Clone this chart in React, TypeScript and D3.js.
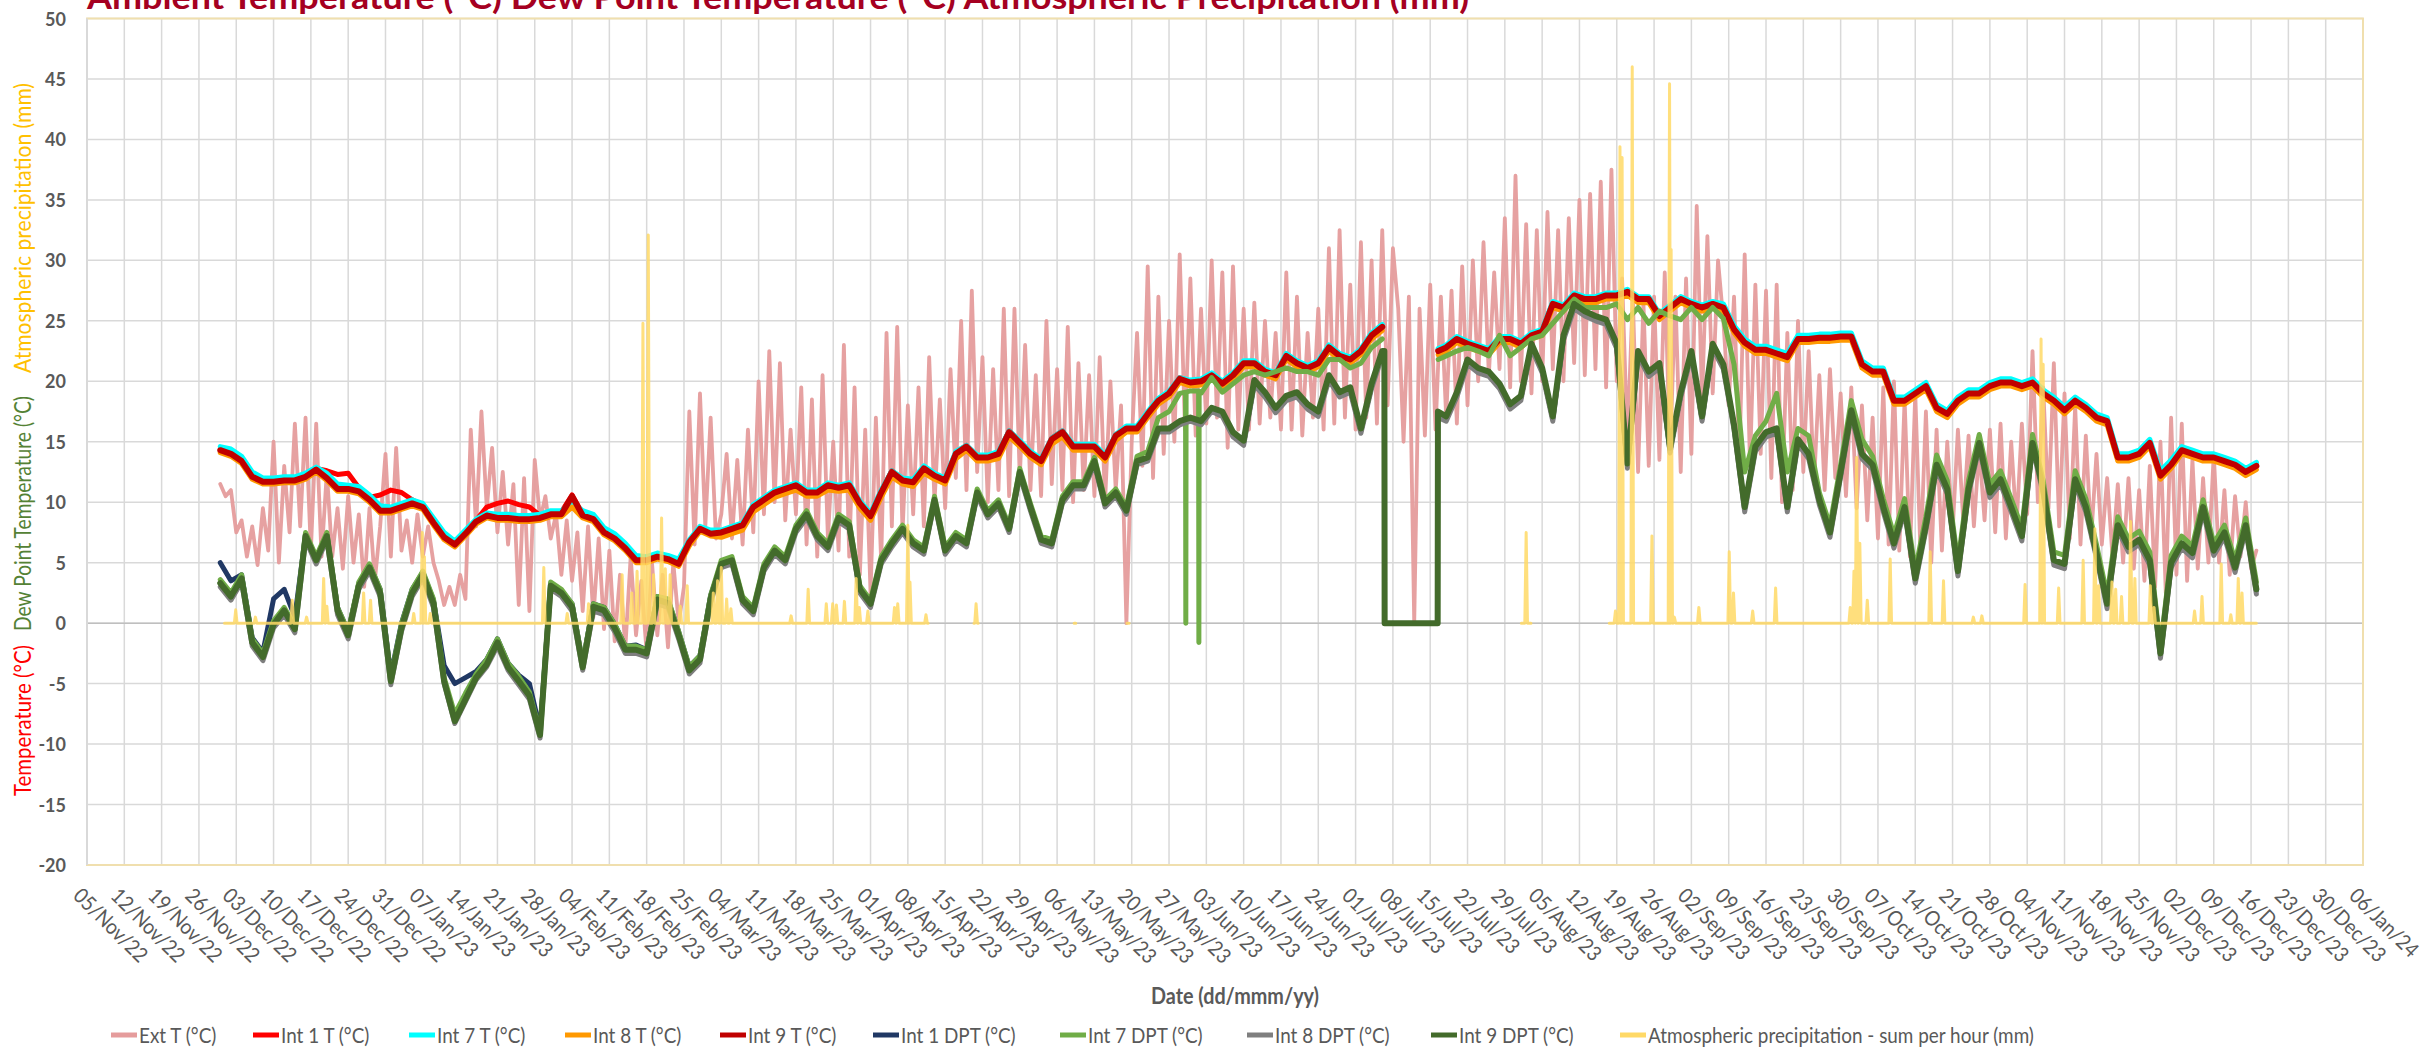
import React from 'react';
import * as d3 from 'd3';

// day 0 of every series
const START = new Date(2022, 10, 30);
const AXIS_START = new Date(2022, 10, 5);
const AXIS_END = new Date(2024, 0, 6);

const seriesNames = ['Ext T (°C)', 'Int 1 T (°C)', 'Int 7 T (°C)', 'Int 8 T (°C)', 'Int 9 T (°C)',
    'Int 1 DPT (°C)', 'Int 7 DPT (°C)', 'Int 8 DPT (°C)', 'Int 9 DPT (°C)',
    'Atmospheric precipitation - sum per hour (mm)'];
const seriesColors = ['#E59C9C', '#FF0000', '#00FFFF', '#FF9900', '#C00000',
    '#203864', '#70AD47', '#7F7F7F', '#436B2B', '#FFD966'];

const yTicks = [-20, -15, -10, -5, 0, 5, 10, 15, 20, 25, 30, 35, 40, 45, 50];

// outdoor temperature, one reading per day (alternating day / night)
const extT = [
    11.5, 10.5, 11.0, 7.5, 8.5, 5.5, 8.0, 4.8, 9.5, 6.0,
    15.0, 5.0, 13.0, 7.5, 16.5, 8.0, 17.0, 6.0, 16.5, 5.5,
    12.5, 5.5, 9.5, 4.5, 10.5, 5.0, 9.0, 3.0, 9.5, 3.5,
    8.0, 14.0, 5.5, 14.5, 6.0, 8.5, 5.0, 9.0, 5.5, 8.0,
    5.0, 3.5, 1.5, 3.0, 1.5, 4.0, 2.0, 16.0, 8.0, 17.5,
    9.5, 14.5, 7.5, 12.5, 6.5, 11.5, 1.5, 12.0, 1.0, 13.5,
    8.5, 10.5, 7.0, 9.0, 4.0, 8.5, 3.5, 7.5, 1.0, 8.0,
    0.5, 7.0, -0.5, 6.0, -1.5, 4.0, -2.0, 5.5, -1.0, 3.5,
    -2.5, 5.0, -1.0, 4.0, -2.0, 5.0, 0.0, 3.0, 17.5, 6.5,
    19.0, 8.0, 17.0, 7.0,
    9, 14, 7, 13.5, 6.5, 16, 7.5, 20,
    9, 22.5, 10, 21.5, 8.5, 16, 9,
    19.5, 6.5, 18.5, 5.5, 20.5, 7, 15,
    6, 23, 5.5, 19.5, 4, 16, 2.5,
    17, 5, 24, 8, 24.5, 7.5, 18,
    9, 19.5, 8, 22, 10, 18.5, 9.5,
    21, 12, 25, 11, 27.5, 12.5, 22,
    10, 21, 11, 26, 10.5, 26, 12,
    23, 11, 20.5, 10.5, 25, 11.5, 21,
    11, 24.5, 10, 21.5, 11, 20.5, 10.5,
    22, 10, 20, 11, 18, 0, 15,
    24, 13, 29.5, 12, 27, 14, 25,
    15, 30.5, 16, 28.5, 15.5, 26, 16.5, 30, 17,
    29, 14.5, 29.5, 16, 26,
    16, 26.5, 16.5, 25, 17, 24, 16,
    29, 16, 27, 15.5, 24, 17, 26,
    16, 31, 16.5, 32.5, 17, 28, 16,
    31.5, 17, 30, 16.5, 32.5, 18, 31,
    26, 15, 27, 0, 26, 15.5, 28,
    16, 27, 17, 27.5, 16.5, 29.5, 18,
    30, 20, 31.5, 20.5, 29, 21, 33.5,
    19.5, 37, 20, 33, 19, 32.5, 20,
    34, 21, 32.5, 20, 33.5, 21.5, 35,
    20.5, 35.5, 21, 36.5, 19.5, 37.5, 20,
    28.5, 15, 27, 12.5, 26.5, 13, 27,
    13.5, 29, 14, 27, 12.5, 28.5, 14,
    34.5, 18.5, 32, 19, 30,
    25, 18,
    27, 13.5, 30.5, 13, 28, 14, 27.5,
    12, 28, 10, 24, 11, 25, 12.5,
    22.5, 11.5, 20.5, 11, 21, 12, 19,
    10.5, 19.5, 9.5, 18, 8.5, 17, 7,
    19.5, 6.5, 20, 6, 18.5, 5.5, 19,
    5.5, 17.5, 5, 16, 6, 15, 7.5,
    16, 8.5, 15.5, 8, 14.5, 8.5, 16,
    7.5, 16.5, 7, 15, 8, 16.5, 9,
    22.5, 10, 19.5, 9.5, 21.5, 8, 19,
    7, 18, 6.5, 15.5, 7, 14, 6.5,
    12, 5.5, 11.5, 5, 12, 4.5, 11,
    3.5, 13, 3, 15, 2.5, 17, 4,
    16.5, 3.5, 13.5, 4.5, 12, 5, 14,
    5, 11, 4, 10.5, 5.5, 10, 4.5,
    6
];

// indoor sensors, one reading every 2 days
const int1T = [
    14.4, 14.1, 13.5, 12.2, 11.8, 11.9, 12.0, 12.0, 12.3, 12.8, 12.6, 12.3, 12.4, 11.2, 10.4, 10.6,
    11.0, 10.8, 10.2, 9.7, 8.4, 7.2, 6.6, 7.5, 8.5, 9.6, 9.9, 10.1, 9.8, 9.6, 8.9, 9.2,
    9.2, 10.6, 9.0, 8.7, 7.6, 7.1, 6.3, 5.3, 5.3, 5.6, 5.4, 5.0, 6.8, 7.9, 7.5,
    7.6, 7.9, 8.2, 9.7, 10.3, 10.9, 11.2, 11.5, 10.9, 10.9, 11.5, 11.3, 11.5, 10.0, 9.0, 10.9,
    12.6, 11.9, 11.8, 12.9, 12.3, 11.9, 14.1, 14.7, 13.8, 13.8, 14.1, 15.9, 15.0, 14.1, 13.5, 15.3,
    15.9, 14.7, 14.7, 14.7, 13.8, 15.6, 16.2, 16.2, 17.4, 18.5, 19.1, 20.3, 20.0, 20.1, 20.6,
    19.9, 20.6, 21.6, 21.6, 20.9, 20.6, 22.2, 21.6, 21.2, 21.6, 22.9, 22.2, 21.9, 22.6, 23.9, 24.6,
    null, null, null, null, null, 22.9, 23.6, 23.2, 22.9, 22.6, 23.6, 23.6, 23.2, 23.9, 24.2, 26.5,
    26.2, 27.2, 26.9, 26.9, 27.2, 27.2, 27.5, 26.9, 26.9, 25.5, 26.2, 26.9, 26.5, 26.2, 26.5,
    26.0, 24.3, 23.3, 22.6, 22.7, 22.3, 22.1, 23.5, 23.6, 23.6, 23.7, 23.7, 23.8, 21.4, 20.9, 20.8,
    18.5, 18.4, 19.1, 19.6, 17.9, 17.3, 18.5, 19.0, 19.1, 19.6, 20.0, 19.9, 19.7, 19.9, 19.1, 18.4,
    17.7, 18.4, 17.9, 17.0, 16.8, 13.7, 13.8, 14.0, 15.0, 12.2, 13.2, 14.3, 14.1, 13.7, 13.8, 13.4,
    13.2, 12.5, 13.1
];

const int7T = [
    14.6, 14.4, 13.8, 12.5, 12.0, 12.0, 12.1, 12.1, 12.4, 12.9, 12.4, 11.5, 11.4, 11.3, 10.6, 9.7,
    9.6, 9.9, 10.2, 9.9, 8.7, 7.5, 6.8, 7.7, 8.6, 9.1, 9.0, 9.0, 8.9, 8.9, 9.0, 9.3,
    9.3, 10.0, 9.3, 9.0, 7.9, 7.4, 6.6, 5.6, 5.5, 5.8, 5.6, 5.3, 6.9, 8.0, 7.7,
    7.7, 8.0, 8.3, 9.8, 10.4, 11.0, 11.3, 11.6, 11.0, 11.0, 11.6, 11.4, 11.6, 10.1, 9.1, 11.0,
    12.6, 12.0, 11.9, 13.0, 12.4, 12.0, 14.2, 14.7, 13.9, 13.9, 14.2, 15.9, 15.1, 14.2, 13.6, 15.3,
    15.9, 14.8, 14.8, 14.8, 13.9, 15.6, 16.3, 16.3, 17.5, 18.6, 19.2, 20.3, 20.1, 20.2, 20.7,
    20.0, 20.7, 21.7, 21.7, 21.0, 20.7, 22.3, 21.7, 21.3, 21.7, 23.0, 22.3, 22.0, 22.7, 24.0, 24.7,
    null, null, null, null, null, 23.0, 23.7, 23.3, 23.0, 22.7, 23.7, 23.7, 23.3, 24.0, 24.3, 26.6,
    26.3, 27.3, 27.0, 27.0, 27.3, 27.3, 27.6, 27.0, 27.0, 25.6, 26.3, 27.0, 26.6, 26.3, 26.6,
    26.4, 24.6, 23.5, 22.9, 22.9, 22.6, 22.3, 23.8, 23.8, 23.9, 23.9, 24.0, 24.0, 21.7, 21.1, 21.1,
    18.7, 18.7, 19.3, 19.9, 18.1, 17.6, 18.7, 19.3, 19.3, 19.9, 20.2, 20.2, 19.9, 20.2, 19.3, 18.7,
    17.9, 18.7, 18.1, 17.3, 17.0, 14.0, 14.0, 14.3, 15.2, 12.6, 13.5, 14.6, 14.3, 14.0, 14.0, 13.7,
    13.4, 12.8, 13.3
];

const int8T = [
    14.1, 13.8, 13.2, 11.9, 11.5, 11.5, 11.6, 11.6, 11.9, 12.5, 11.8, 10.9, 10.9, 10.7, 10.0, 9.1,
    9.1, 9.4, 9.7, 9.4, 8.1, 6.9, 6.3, 7.2, 8.2, 8.7, 8.5, 8.5, 8.4, 8.4, 8.5, 8.8,
    8.8, 9.6, 8.7, 8.4, 7.3, 6.8, 6.0, 5.0, 5.0, 5.3, 5.1, 4.7, 6.4, 7.6, 7.2,
    7.1, 7.4, 7.7, 9.2, 9.8, 10.4, 10.7, 11.0, 10.5, 10.5, 11.0, 10.9, 11.0, 9.5, 8.5, 10.4,
    12.1, 11.5, 11.3, 12.4, 11.9, 11.5, 13.6, 14.3, 13.4, 13.4, 13.6, 15.4, 14.6, 13.7, 13.1, 14.8,
    15.4, 14.3, 14.3, 14.3, 13.4, 15.1, 15.8, 15.8, 17.0, 18.1, 18.7, 19.9, 19.6, 19.7, 20.2,
    19.5, 20.2, 21.2, 21.2, 20.5, 20.2, 21.8, 21.2, 20.8, 21.2, 22.5, 21.8, 21.5, 22.2, 23.5, 24.2,
    null, null, null, null, null, 22.5, 23.2, 22.8, 22.5, 22.2, 23.2, 23.2, 22.8, 23.5, 23.8, 26.1,
    25.8, 26.8, 26.5, 26.5, 26.8, 26.8, 27.1, 26.5, 26.5, 25.1, 25.8, 26.5, 26.1, 25.8, 26.1,
    25.8, 24.0, 22.9, 22.3, 22.3, 22.0, 21.7, 23.2, 23.2, 23.3, 23.3, 23.4, 23.4, 21.1, 20.5, 20.5,
    18.1, 18.1, 18.7, 19.3, 17.5, 17.0, 18.1, 18.7, 18.7, 19.3, 19.6, 19.6, 19.3, 19.6, 18.7, 18.1,
    17.3, 18.1, 17.5, 16.7, 16.4, 13.4, 13.4, 13.7, 14.6, 11.9, 12.8, 14.0, 13.7, 13.4, 13.4, 13.1,
    12.8, 12.2, 12.7
];

const int9T = [
    14.3, 14.0, 13.4, 12.1, 11.7, 11.7, 11.8, 11.8, 12.1, 12.7, 12.0, 11.1, 11.1, 10.9, 10.2, 9.3,
    9.3, 9.6, 9.9, 9.6, 8.3, 7.1, 6.5, 7.4, 8.4, 8.9, 8.7, 8.7, 8.6, 8.6, 8.7, 9.0,
    9.0, 10.5, 8.9, 8.6, 7.5, 7.0, 6.2, 5.2, 5.2, 5.5, 5.3, 4.9, 6.7, 7.8, 7.4,
    7.5, 7.8, 8.1, 9.6, 10.2, 10.8, 11.1, 11.4, 10.8, 10.8, 11.4, 11.2, 11.4, 9.9, 8.85, 10.8,
    12.5, 11.8, 11.65, 12.8, 12.2, 11.8, 14.0, 14.6, 13.7, 13.7, 14.0, 15.8, 14.9, 14.0, 13.4, 15.2,
    15.8, 14.6, 14.6, 14.6, 13.7, 15.5, 16.1, 16.1, 17.3, 18.4, 19.0, 20.2, 19.9, 20.0, 20.5,
    19.8, 20.5, 21.5, 21.5, 20.8, 20.5, 22.1, 21.5, 21.1, 21.5, 22.8, 22.1, 21.8, 22.5, 23.8, 24.5,
    null, null, null, null, null, 22.8, 23.5, 23.1, 22.8, 22.5, 23.5, 23.5, 23.1, 23.8, 24.1, 26.4,
    26.1, 27.1, 26.8, 26.8, 27.1, 27.1, 27.4, 26.8, 26.8, 25.4, 26.1, 26.8, 26.4, 26.1, 26.4,
    26.1, 24.3, 23.2, 22.6, 22.6, 22.3, 22.0, 23.5, 23.5, 23.6, 23.6, 23.7, 23.7, 21.4, 20.8, 20.8,
    18.4, 18.4, 19.0, 19.6, 17.8, 17.3, 18.4, 19.0, 19.0, 19.6, 19.9, 19.9, 19.6, 19.9, 19.0, 18.4,
    17.6, 18.4, 17.8, 17.0, 16.7, 13.7, 13.7, 14.0, 14.9, 12.2, 13.1, 14.3, 14.0, 13.7, 13.7, 13.4,
    13.1, 12.5, 13.0
];

const int1Dpt = [
    5.0, 3.5, 4.0, -1.2, -2.4, 2.0, 2.8, 0.5, 7.3, 5.4, 7.3, 1.3, -0.7, 3.3, 4.8, 2.8,
    -4.3, 0.0, 2.8, 4.2, 1.9, -3.5, -5.0, -4.5, -4.0, -3.0, -1.3, -3.3, -4.3, -5.0, -8.8, 3.3,
    2.7, 1.6, -3.3, 1.6, 1.3, -0.1, -1.9, -1.8, -2.2, 2.2, 1.9, -0.7, -3.6, -2.7, 2.3,
    4.8, 5.1, 1.8, 0.9, 4.5, 5.9, 5.1, 7.7, 8.9, 7.1, 6.2, 8.6, 8.0, 2.7, 1.5, 5.1,
    6.5, 7.7, 6.5, 5.9, 10.1, 5.9, 7.1, 6.5, 10.7, 8.9, 9.8, 7.7, 12.4, 9.5, 6.8, 6.5,
    10.1, 11.3, 11.3, 13.3, 9.8, 10.7, 9.2, 13.3, 13.6, 16.0, 16.0, 16.6, 16.9, 16.6, 17.7,
    17.3, 15.6, 14.9, 19.9, 18.9, 17.6, 18.6, 18.9, 17.9, 17.3, 20.3, 18.9, 19.3, 15.9, 19.6, 22.3,
    null, null, null, null, null, 16.9, 18.9, 21.6, 20.9, 20.6, 19.6, 17.9, 18.6, 22.9, 20.9, 16.9,
    23.6, 26.2, 25.6, 25.2, 24.9, 22.9, 13.0, 22.3, 20.6, 21.3, 14.3, 18.9, 22.3, 16.9, 22.9,
    21.3, 16.3, 9.5, 14.5, 15.7, 16.0, 9.5, 15.1, 13.9, 10.1, 7.4, 12.4, 17.5, 13.9, 13.0, 9.5,
    6.5, 9.5, 3.6, 8.0, 13.0, 11.0, 4.2, 11.0, 14.8, 10.7, 11.8, 9.5, 7.1, 14.8, 11.0, 5.1,
    4.8, 11.8, 9.5, 5.7, 1.5, 8.0, 6.2, 6.8, 5.1, -2.6, 4.9, 6.5, 5.7, 9.5, 5.9, 7.4,
    4.5, 8.0, 2.7
];

const int7Dpt = [
    3.6, 2.5, 4.0, -1.3, -2.5, 0.2, 1.3, -0.2, 7.5, 5.5, 7.5, 1.3, -0.7, 3.4, 4.9, 2.8,
    -4.5, -0.1, 2.8, 4.3, 2.0, -4.5, -7.5, -5.8, -4.2, -3.0, -1.3, -3.3, -4.4, -5.7, -9.0, 3.4,
    2.8, 1.6, -3.3, 1.6, 1.3, -0.1, -1.9, -1.9, -2.2, 2.2, 2.0, -0.7, -3.6, -2.7, 2.3,
    5.2, 5.5, 2.2, 1.3, 4.9, 6.3, 5.5, 8.1, 9.3, 7.5, 6.6, 9.0, 8.4, 3.1, 1.9, 5.5,
    6.9, 8.1, 6.9, 6.3, 10.5, 6.3, 7.5, 6.9, 11.1, 9.3, 10.2, 8.1, 12.8, 9.9, 7.2, 6.9,
    10.5, 11.7, 11.7, 13.7, 10.2, 11.1, 9.6, 13.8, 14.2, 17.0, 17.5, 19.0, 19.2, 19.0, 20.3,
    19.1, 19.8, 20.5, 20.8, 20.5, 20.8, 21.1, 20.8, 20.8, 20.5, 21.8, 21.8, 21.1, 21.5, 22.8, 23.5,
    null, null, null, null, null, 22.1, 22.5, 22.8, 22.5, 22.1, 23.8, 22.1, 22.8, 23.5, 23.8, 24.8,
    25.8, 26.8, 26.1, 26.1, 26.1, 26.4, 25.1, 26.1, 24.8, 25.8, 25.4, 25.1, 26.1, 25.1, 26.1,
    25.2, 21.4, 12.5, 15.5, 16.7, 19.0, 12.5, 16.1, 15.5, 10.8, 8.1, 13.1, 18.4, 15.2, 13.8, 10.3,
    7.3, 10.3, 4.4, 8.8, 13.9, 11.8, 5.0, 11.8, 15.6, 11.5, 12.6, 10.3, 7.9, 15.6, 11.8, 5.9,
    5.6, 12.6, 10.3, 6.5, 2.3, 8.8, 7.0, 7.6, 5.9, -2.0, 5.6, 7.2, 6.4, 10.2, 6.6, 8.1,
    5.2, 8.7, 3.4
];

const int8Dpt = [
    3.0, 1.9, 3.4, -1.9, -3.1, -0.4, 0.7, -0.8, 6.9, 4.9, 6.9, 0.7, -1.3, 2.8, 4.3, 2.2,
    -5.1, -0.7, 2.2, 3.7, 1.3, -5.0, -8.3, -6.5, -4.7, -3.6, -1.9, -3.9, -5.1, -6.3, -9.5, 2.8,
    2.2, 1.0, -3.9, 1.0, 0.7, -0.7, -2.5, -2.5, -2.8, 1.6, 1.3, -1.3, -4.2, -3.3, 1.7,
    4.6, 4.9, 1.6, 0.7, 4.3, 5.7, 4.9, 7.5, 8.7, 6.9, 6.0, 8.4, 7.8, 2.5, 1.3, 4.9,
    6.3, 7.5, 6.3, 5.7, 9.9, 5.7, 6.9, 6.3, 10.5, 8.7, 9.6, 7.5, 12.2, 9.3, 6.6, 6.3,
    9.9, 11.1, 11.1, 13.1, 9.6, 10.5, 9.0, 13.1, 13.4, 15.8, 15.8, 16.4, 16.7, 16.4, 17.5,
    17.1, 15.4, 14.7, 19.7, 18.7, 17.4, 18.4, 18.7, 17.7, 17.1, 20.1, 18.7, 19.1, 15.7, 19.4, 22.1,
    null, null, null, null, null, 16.7, 18.7, 21.4, 20.7, 20.4, 19.4, 17.7, 18.4, 22.7, 20.7, 16.7,
    23.4, 26.0, 25.4, 25.0, 24.7, 22.7, 12.8, 22.1, 20.4, 21.1, 14.1, 18.7, 22.1, 16.7, 22.7,
    21.0, 16.0, 9.2, 14.2, 15.4, 15.7, 9.2, 14.8, 13.6, 9.8, 7.1, 12.1, 17.2, 13.6, 12.7, 9.2,
    6.2, 9.2, 3.3, 7.7, 12.7, 10.7, 3.9, 10.7, 14.5, 10.4, 11.5, 9.2, 6.8, 14.5, 10.7, 4.8,
    4.5, 11.5, 9.2, 5.4, 1.2, 7.7, 5.9, 6.5, 4.8, -2.9, 4.6, 6.2, 5.4, 9.2, 5.6, 7.1,
    4.2, 7.7, 2.4
];

const int9Dpt = [
    3.3, 2.2, 3.7, -1.6, -2.8, -0.1, 1.05, -0.5, 7.2, 5.2, 7.2, 1.05, -1.0, 3.1, 4.6, 2.5,
    -4.8, -0.4, 2.5, 4.0, 1.65, -4.8, -8.1, -6.3, -4.5, -3.4, -1.6, -3.65, -4.8, -6.0, -9.25, 3.1,
    2.5, 1.35, -3.65, 1.35, 1.05, -0.4, -2.2, -2.2, -2.5, 1.95, 1.65, -1.0, -3.9, -3.0, 2.0,
    4.9, 5.2, 1.9, 1.0, 4.6, 6.0, 5.2, 7.8, 9.0, 7.2, 6.3, 8.7, 8.1, 2.8, 1.6, 5.2,
    6.6, 7.8, 6.6, 6.0, 10.2, 6.0, 7.2, 6.6, 10.8, 9.0, 9.9, 7.8, 12.5, 9.6, 6.9, 6.6,
    10.2, 11.4, 11.4, 13.4, 9.9, 10.8, 9.3, 13.4, 13.7, 16.1, 16.1, 16.7, 17.0, 16.7, 17.8,
    17.5, 15.8, 15.1, 20.1, 19.1, 17.8, 18.8, 19.1, 18.1, 17.5, 20.5, 19.1, 19.5, 16.1, 19.8, 22.5,
    0, 0, 0, 0, 0, 17.1, 19.1, 21.8, 21.1, 20.8, 19.8, 18.1, 18.8, 23.1, 21.1, 17.1,
    23.8, 26.4, 25.8, 25.4, 25.1, 23.1, 13.2, 22.5, 20.8, 21.5, 14.5, 19.1, 22.5, 17.1, 23.1,
    21.4, 16.4, 9.6, 14.6, 15.8, 16.1, 9.6, 15.2, 14.0, 10.2, 7.5, 12.5, 17.6, 14.0, 13.1, 9.6,
    6.6, 9.6, 3.7, 8.1, 13.1, 11.1, 4.3, 11.1, 14.9, 10.8, 11.9, 9.6, 7.2, 14.9, 11.1, 5.2,
    4.9, 11.9, 9.6, 5.8, 1.6, 8.1, 6.3, 6.9, 5.2, -2.5, 5.0, 6.6, 5.8, 9.6, 6.0, 7.5,
    4.6, 8.1, 2.8
];

// extra readings [day, value] where a sensor jumps within a day
const int1TExtra = [[228.5, 22.6]];
const int7TExtra = [[228.5, 22.7]];
const int8TExtra = [[228.5, 22.2]];
const int9TExtra = [[228.5, 22.5]];
const int1DptExtra = [[228.5, 17.2]];
const int7DptExtra = [[181.1, 19.1], [181.15, 0], [181.2, 19.1], [183.55, 19.2], [183.6, -1.6], [183.65, 19.2], [228.5, 21.8]];
const int8DptExtra = [[228.5, 17.0]];
const int9DptExtra = [[218.4, 22.5], [218.45, 0], [228.4, 0], [228.45, 17.5]];

// precipitation: periods with records [fromDay, toDay] and hourly peaks [day, mm]
const precipPeriods = [[0.8, 132.8], [141.4, 142.2], [160.2, 160.5], [170.1, 170.5], [244.1, 245.9], [260.6, 382]];
const precipPeaks = [
    [2.9, 1.1], [6.6, 0.5], [13.5, 1.9], [16.2, 0.5], [19.4, 3.7], [20.0, 1.4], [26.9, 2.5], [28.2, 1.9],
    [36.3, 0.8], [37.9, 7.5], [38.3, 5.5], [39.4, 0.8], [60.7, 4.6], [65.1, 0.8], [69.1, 1.6], [75.4, 4.0],
    [77.2, 2.5], [78.2, 4.3], [79.3, 24.8], [80.3, 32.1], [81.3, 4.0], [82.8, 8.7], [83.5, 4.5], [84.4, 4.0],
    [86.3, 1.4], [87.6, 3.1], [92.5, 2.5], [93.3, 3.5], [94.0, 4.6], [95.0, 2.0], [95.8, 1.2],
    [107.1, 0.6], [110.3, 2.8], [113.7, 1.6], [114.9, 1.6], [115.6, 1.5], [117.1, 1.8], [119.3, 3.7],
    [119.9, 1.3], [121.5, 1.0], [126.5, 1.3], [127.1, 1.6], [129.0, 8.1], [129.4, 3.4], [132.4, 0.7],
    [141.8, 1.6], [245.0, 7.5],
    [261.75, 1.0], [262.6, 39.4], [263.0, 38.5], [264.9, 46.0], [268.6, 7.2], [271.9, 44.6], [272.2, 30.9],
    [272.8, 0.5], [277.4, 1.3], [283.1, 5.9], [283.9, 2.5], [287.5, 1.0], [291.8, 2.9], [305.8, 1.3],
    [306.5, 4.3], [307.0, 13.7], [307.6, 6.6], [309.0, 1.9], [313.3, 5.3], [320.8, 5.9], [323.3, 3.5],
    [328.9, 0.5], [330.5, 0.6], [338.6, 3.2], [341.6, 23.5], [342.0, 21.4], [344.9, 2.9], [349.5, 5.2],
    [351.7, 7.8], [352.4, 3.1], [354.9, 3.4], [355.6, 2.8], [356.7, 2.2], [358.4, 8.4], [359.2, 3.7],
    [362.1, 3.1], [362.8, 1.3], [370.4, 1.0], [371.8, 2.2], [375.4, 4.9], [377.2, 0.7], [378.6, 3.7],
    [379.3, 2.5]
];

const W = 2430, H = 1050;
const PLOT = {left: 87, right: 2363, top: 18.5, bottom: 865};
const LEGEND_X = [111, 253, 409, 565, 720, 873, 1060, 1247, 1431, 1620];
const FONT = "Lato, 'Liberation Sans', sans-serif";
const GREY = '#595959';
const NARROW = 0.9;

type Pt = {d: number, v: number | null};

function toPoints(values: (number | null)[], step: number, extra: number[][] = []): Pt[] {
    const pts: Pt[] = values.map((v, i) => ({d: i * step, v}));
    extra.forEach(([d, v]) => pts.push({d, v}));
    return pts.sort((a, b) => a.d - b.d);
}

function precipPoints(): Pt[] {
    const pts: Pt[] = [];
    precipPeriods.forEach(([a, b]) => {
        pts.push({d: a, v: 0});
        precipPeaks.filter(([d]) => d > a && d < b).forEach(([d, mm]) => {
            pts.push({d: d - 0.25, v: 0}, {d, v: mm}, {d: d + 0.25, v: 0});
        });
        pts.push({d: b, v: 0}, {d: b, v: null});
    });
    return pts;
}

export default function App() {
    const x = d3.scaleTime().domain([AXIS_START, AXIS_END]).range([PLOT.left, PLOT.right]);
    const y = d3.scaleLinear().domain([-20, 50]).range([PLOT.bottom, PLOT.top]);
    const at = (d: number) => x(new Date(START.getTime() + d * 864e5));
    const line = d3.line<Pt>()
        .defined(p => p.v !== null)
        .x(p => at(p.d))
        .y(p => y(p.v as number));

    const weeks = d3.timeSaturday.range(AXIS_START, d3.timeDay.offset(AXIS_END, 1));
    const fmt = d3.timeFormat('%d/%b/%y');

    const lines = [
        {pts: toPoints(extT, 1), w: 3.8, op: 0.95},
        {pts: toPoints(int1T, 2, int1TExtra), w: 5, op: 1},
        {pts: toPoints(int7T, 2, int7TExtra), w: 5, op: 1},
        {pts: toPoints(int8T, 2, int8TExtra), w: 5, op: 1},
        {pts: toPoints(int9T, 2, int9TExtra), w: 6, op: 1},
        {pts: toPoints(int1Dpt, 2, int1DptExtra), w: 5, op: 1},
        {pts: toPoints(int7Dpt, 2, int7DptExtra), w: 5, op: 1},
        {pts: toPoints(int8Dpt, 2, int8DptExtra), w: 5, op: 1},
        {pts: toPoints(int9Dpt, 2, int9DptExtra), w: 6, op: 1},
        {pts: precipPoints(), w: 3, op: 0.85}
    ];

    return (
        <svg width={W} height={H} style={{position: 'absolute', left: 0, top: 0, background: '#fff'}}>
            <text x={87} y={9} textLength={1382} lengthAdjust="spacingAndGlyphs"
                  fontFamily={FONT} fontWeight="bold" fontSize={32} fill="#A50021">
                Ambient Temperature (°C) Dew Point Temperature (°C) Atmospheric Precipitation (mm)
            </text>

            <g stroke="#D9D9D9" strokeWidth={1.5}>
                {yTicks.map(t => <line key={t} x1={PLOT.left} x2={PLOT.right} y1={y(t)} y2={y(t)}/>)}
                {weeks.map(w => <line key={+w} x1={x(w)} x2={x(w)} y1={PLOT.top} y2={PLOT.bottom}/>)}
            </g>
            <line x1={PLOT.left} x2={PLOT.right} y1={y(0)} y2={y(0)} stroke="#BFBFBF" strokeWidth={1.5}/>
            <rect x={PLOT.left} y={PLOT.top} width={PLOT.right - PLOT.left} height={PLOT.bottom - PLOT.top}
                  fill="none" stroke="#F0DFAE" strokeWidth={2}/>
            <line x1={PLOT.left} x2={PLOT.left} y1={PLOT.top} y2={PLOT.bottom} stroke="#D9D9D9" strokeWidth={2}/>

            <g fill="none" strokeLinejoin="round" strokeLinecap="round">
                {lines.map((s, i) => (
                    <path key={i} d={line(s.pts) || ''} stroke={seriesColors[i]} strokeWidth={s.w} strokeOpacity={s.op}/>
                ))}
            </g>

            <g fontFamily={FONT} fontWeight="bold" fontSize={18} fill={GREY} textAnchor="end">
                {yTicks.map(t => <text key={t} x={66} y={y(t)} dominantBaseline="central">{t}</text>)}
            </g>

            <g fontFamily={FONT} fontSize={23}>
                <text transform="translate(22,796) rotate(-90)" dominantBaseline="central" fill="#FF0000"
                      textLength={151} lengthAdjust="spacingAndGlyphs">Temperature (°C)</text>
                <text transform="translate(22,631) rotate(-90)" dominantBaseline="central" fill="#548235"
                      textLength={235} lengthAdjust="spacingAndGlyphs">Dew Point Temperature (°C)</text>
                <text transform="translate(22,373) rotate(-90)" dominantBaseline="central" fill="#FFC000"
                      textLength={290} lengthAdjust="spacingAndGlyphs">Atmospheric precipitation (mm)</text>
            </g>

            <g fontFamily={FONT} fontSize={21} fill={GREY}>
                {weeks.map(w => (
                    <text key={+w} transform={`translate(${x(w) - 3},885) rotate(45) scale(${NARROW},1)`}
                          dominantBaseline="hanging">
                        {fmt(w)}
                    </text>
                ))}
            </g>

            <text transform={`translate(1235,995) scale(${NARROW},1)`} textAnchor="middle" dominantBaseline="central"
                  fontFamily={FONT} fontWeight="bold" fontSize={22} fill={GREY}>Date (dd/mmm/yy)</text>

            <g fontFamily={FONT} fontSize={21} fill={GREY}>
                {seriesNames.map((name, i) => (
                    <g key={name} transform={`translate(${LEGEND_X[i]},1035)`}>
                        <line x1={0} x2={26} y1={0} y2={0} stroke={seriesColors[i]} strokeWidth={5}/>
                        <text transform={`translate(28,0) scale(${NARROW},1)`} dominantBaseline="central">{name}</text>
                    </g>
                ))}
            </g>
        </svg>
    );
}
